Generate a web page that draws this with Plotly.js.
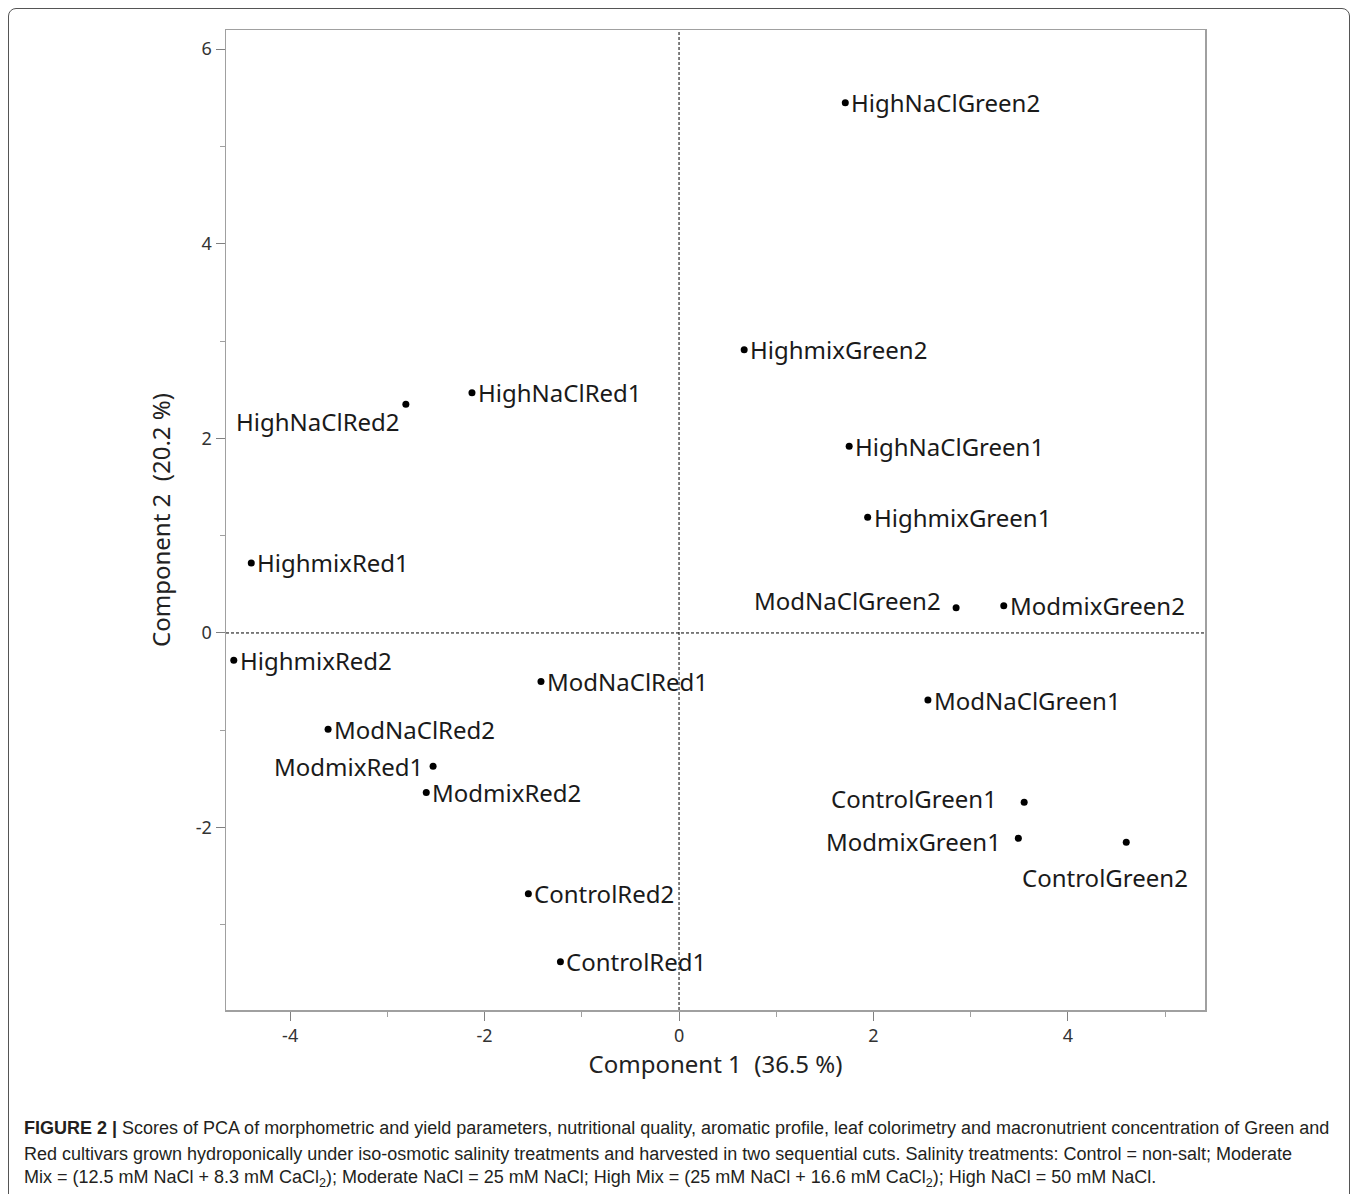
<!DOCTYPE html>
<html>
<head>
<meta charset="utf-8">
<script src="https://cdn.plot.ly/plotly-3.0.1.min.js"></script>
<style>
  html, body { margin: 0; padding: 0; background: #fff; }
  #wrap { position: relative; width: 1357px; height: 1194px; overflow: hidden; }
  #chart { position: absolute; left: 0; top: 0; width: 1357px; height: 1194px; }
  #frame { position: absolute; left: 8px; top: 8px; width: 1340px; height: 1210px;
           border: 1px solid #555; border-radius: 8px; pointer-events: none; }
</style>
</head>
<body>
<div id="wrap">
  <div id="chart"></div>
  <div id="frame"></div>
</div>
<script>
// ---- data ----
const names = ["HighNaClGreen2","HighmixGreen2","HighNaClRed1","HighNaClRed2","HighNaClGreen1",
  "HighmixGreen1","HighmixRed1","ModNaClGreen2","ModmixGreen2","HighmixRed2","ModNaClRed1",
  "ModNaClGreen1","ModNaClRed2","ModmixRed1","ModmixRed2","ControlGreen1","ModmixGreen1",
  "ControlGreen2","ControlRed2","ControlRed1"];
const comp1 = [1.71, 0.67, -2.13, -2.81, 1.75, 1.94, -4.40, 2.85, 3.34, -4.58, -1.42,
  2.56, -3.61, -2.53, -2.60, 3.55, 3.49, 4.60, -1.55, -1.22];
const comp2 = [5.45, 2.91, 2.47, 2.35, 1.92, 1.19, 0.72, 0.26, 0.28, -0.28, -0.50,
  -0.69, -0.99, -1.37, -1.64, -1.74, -2.11, -2.15, -2.68, -3.38];
const xTickVals = [-4, -2, 0, 2, 4];
const xTickText = ["-4", "-2", "0", "2", "4"];
const yTickVals = [-2, 0, 2, 4, 6];
const yTickText = ["-2", "0", "2", "4", "6"];

// ---- label placement (style) ----
// [xanchor, xshift, yshift]
const place = {
  "HighNaClRed2": ["right", -4, -17],
  "ModNaClGreen2": ["right", -13, 7],
  "ModmixRed1": ["right", -8, 0],
  "ControlGreen1": ["right", -25, 4],
  "ModmixGreen1": ["right", -15, -3],
  "ControlGreen2": ["right", 64, -35]
};

const labelFont = {family: "Noto Sans, Open Sans, sans-serif", size: 24, color: "#1a1a1a"};
const annotations = names.map((n, i) => {
  const p = place[n] || ["left", 4, 0];
  return {x: comp1[i], y: comp2[i], xref: "x", yref: "y", text: n, showarrow: false,
    xanchor: p[0], yanchor: "middle", xshift: p[1], yshift: p[2], font: labelFont};
});

// caption as paper annotations
const captionFont = {family: "Liberation Sans, Arial, sans-serif", size: 18, color: "#231f20"};
const captionLines = [
  "<b>FIGURE 2 |</b> Scores of PCA of morphometric and yield parameters, nutritional quality, aromatic profile, leaf colorimetry and macronutrient concentration of Green and",
  "Red cultivars grown hydroponically under iso-osmotic salinity treatments and harvested in two sequential cuts. Salinity treatments: Control = non-salt; Moderate",
  "Mix = (12.5 mM NaCl + 8.3 mM CaCl<sub>2</sub>); Moderate NaCl = 25 mM NaCl; High Mix = (25 mM NaCl + 16.6 mM CaCl<sub>2</sub>); High NaCl = 50 mM NaCl."
];
const ml = 226, mr = 152, mt = 30, mb = 184;
const plotW = 1357 - ml - mr, plotH = 1194 - mt - mb;
const capY = [1128, 1154, 1178];
captionLines.forEach((t, k) => {
  annotations.push({xref: "paper", yref: "paper", x: (22 - ml) / plotW, y: 1 - (capY[k] - mt) / plotH,
    xanchor: "left", yanchor: "middle", text: t, showarrow: false, font: captionFont, align: "left"});
});

const trace = {
  x: comp1, y: comp2, mode: "markers", type: "scatter",
  marker: {color: "#000", size: 7}, hoverinfo: "text", text: names
};

const axisCommon = {
  showgrid: false, zeroline: false, showline: true, mirror: true,
  linecolor: "#a0a0a0", linewidth: 1.5, ticks: "outside", ticklen: 9, tickwidth: 1,
  tickcolor: "#808080",
  tickfont: {family: "Noto Sans, Open Sans, sans-serif", size: 18, color: "#333"},
  minor: {ticks: "outside", ticklen: 5, dtick: 1, tickcolor: "#a0a0a0", tickwidth: 1}
};

const layout = {
  width: 1357, height: 1194,
  margin: {l: ml, r: mr, t: mt, b: mb},
  paper_bgcolor: "#fff", plot_bgcolor: "#fff",
  showlegend: false,
  xaxis: Object.assign({}, axisCommon, {
    range: [-4.66, 5.41], tickmode: "array", tickvals: xTickVals, ticktext: xTickText,
    title: {text: "Component 1  (36.5 %)", font: {family: "Noto Sans, Open Sans, sans-serif", size: 24, color: "#222"}, standoff: 10}
  }),
  yaxis: Object.assign({}, axisCommon, {
    range: [-3.875, 6.197], tickmode: "array", tickvals: yTickVals, ticktext: yTickText,
    title: {text: "Component 2  (20.2 %)", font: {family: "Noto Sans, Open Sans, sans-serif", size: 24, color: "#222"}, standoff: 18}
  }),
  shapes: [
    {type: "line", xref: "x", yref: "paper", x0: 0, x1: 0, y0: 0, y1: 1, line: {color: "#000", width: 1, dash: "3px,2px"}},
    {type: "line", xref: "paper", yref: "y", x0: 0, x1: 1, y0: 0, y1: 0, line: {color: "#000", width: 1, dash: "3px,2px"}}
  ],
  annotations: annotations
};

Plotly.newPlot("chart", [trace], layout, {displayModeBar: false, staticPlot: true});
</script>
</body>
</html>
